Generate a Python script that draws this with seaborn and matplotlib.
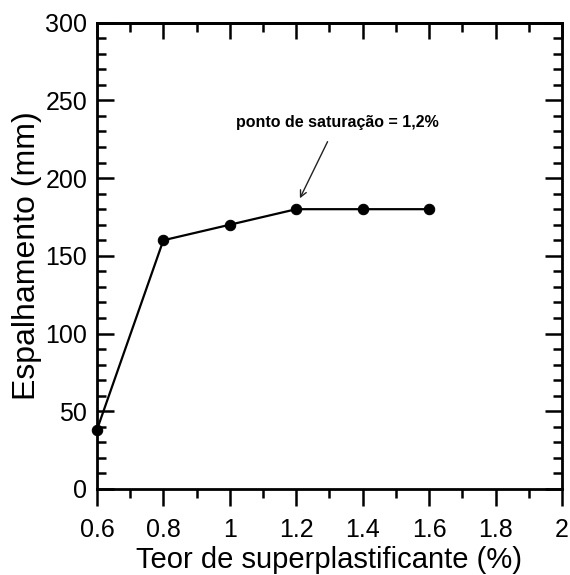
import matplotlib
matplotlib.use("Agg")
import matplotlib.pyplot as plt
import seaborn as sns
import pandas as pd
from matplotlib.ticker import MultipleLocator

teor = [0.6, 0.8, 1.0, 1.2, 1.4, 1.6]
espalhamento = [38, 160, 170, 180, 180, 180]
x_ticks = [0.6, 0.8, 1.0, 1.2, 1.4, 1.6, 1.8, 2.0]
x_ticklabels = ["0.6", "0.8", "1", "1.2", "1.4", "1.6", "1.8", "2"]
y_ticks = [0, 50, 100, 150, 200, 250, 300]

df = pd.DataFrame({"teor": teor, "esp": espalhamento})

sns.set_style("white")
plt.rcParams["font.family"] = ["Liberation Sans", "DejaVu Sans"]
plt.rcParams.update({"text.color": "black", "axes.labelcolor": "black",
                     "xtick.color": "black", "ytick.color": "black"})

fig = plt.figure(figsize=(5.7, 5.75), dpi=100)
ax = fig.add_axes([0.170, 0.1496, 0.816, 0.811])

sns.lineplot(data=df, x="teor", y="esp", ax=ax, color="black", linewidth=1.6,
             marker="o", markersize=7.5, markeredgecolor="black",
             markerfacecolor="black", clip_on=False, zorder=5)

ax.set_xlim(0.6, 2.0)
ax.set_ylim(0, 300)
ax.set_xticks(x_ticks)
ax.set_xticklabels(x_ticklabels)
ax.set_yticks(y_ticks)
ax.xaxis.set_minor_locator(MultipleLocator(0.1))
ax.yaxis.set_minor_locator(MultipleLocator(10))

for s in ax.spines.values():
    s.set_linewidth(2.0)
    s.set_color("black")
    s.set_visible(True)

ax.tick_params(axis="x", which="major", direction="out", length=12, width=1.8,
               labelsize=18, pad=9, bottom=True, top=False)
ax.tick_params(axis="x", which="minor", direction="out", length=6.5, width=1.8,
               bottom=True, top=False)
ax.tick_params(axis="y", which="major", direction="in", length=12, width=1.8,
               labelsize=18, pad=7, left=True, right=True)
ax.tick_params(axis="y", which="minor", direction="in", length=6.5, width=1.8,
               left=True, right=True)

sec = ax.secondary_xaxis("top")
sec.set_xticks(x_ticks)
sec.xaxis.set_minor_locator(MultipleLocator(0.1))
sec.tick_params(axis="x", which="major", direction="in", length=11.5, width=1.8,
                labeltop=False, color="black")
sec.tick_params(axis="x", which="minor", direction="in", length=6.5, width=1.8,
                color="black")
sec.spines["top"].set_linewidth(2.0)
sec.spines["top"].set_color("black")

ax.set_xlabel("Teor de superplastificante (%)", fontsize=21, labelpad=3, color="black")
ax.set_ylabel("Espalhamento (mm)", fontsize=23, labelpad=2, color="black")

ax.annotate("ponto de saturação = 1,2%", xy=(1.211, 187), xytext=(1.323, 236),
            fontsize=11.5, fontweight="bold", ha="center", va="center", color="black",
            arrowprops=dict(arrowstyle="->", color="#222222", lw=1.0,
                            shrinkA=7, shrinkB=0))

fig.savefig("out.png", dpi=100)
